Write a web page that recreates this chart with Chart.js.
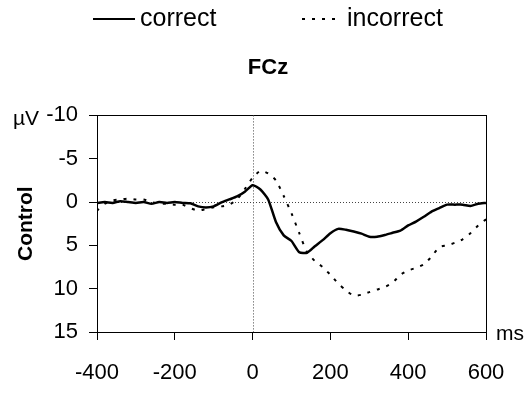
<!DOCTYPE html>
<html>
<head>
<meta charset="utf-8">
<script src="https://cdn.jsdelivr.net/npm/chart.js@4"></script>
<style>
html, body { margin: 0; padding: 0; background: #fff; }
</style>
</head>
<body>
<canvas id="erpCanvas" width="529" height="394"></canvas>
<script>
// time points (ms) and ERP amplitudes (µV), FCz, Control group
var timesMs = [-400, -380, -360, -340, -320, -300, -280, -260, -240, -220,
               -200, -180, -160, -140, -120, -100, -80, -60, -40, -20,
               0, 20, 40, 60, 80, 100, 120, 140, 160, 180,
               200, 220, 240, 260, 280, 300, 320, 340, 360, 380,
               400, 420, 440, 460, 480, 500, 520, 540, 560, 580, 600];
var correctUv = [0.1, 0.0, 0.1, -0.1, 0.0, 0.1, 0.0, 0.2, 0.0, 0.1,
                 0.0, 0.1, 0.15, 0.5, 0.62, 0.5, 0.05, -0.3, -0.65, -1.2,
                 -1.95, -1.45, -0.3, 2.3, 3.85, 4.5, 5.8, 5.85, 5.1, 4.4,
                 3.6, 3.1, 3.2, 3.4, 3.65, 4.0, 4.0, 3.8, 3.55, 3.3,
                 2.7, 2.25, 1.7, 1.1, 0.7, 0.3, 0.3, 0.3, 0.45, 0.2, 0.1];
var incorrectUv = [1.0, 0.2, -0.2, -0.3, -0.4, -0.3, -0.3, 0.0, 0.2, 0.2,
                   0.3, 0.3, 0.7, 1.0, 0.8, 0.6, 0.5, 0.3, -0.3, -1.5,
                   -2.8, -3.6, -3.3, -2.5, -0.7, 1.3, 3.6, 5.8, 6.8, 7.5,
                   8.4, 9.4, 10.2, 10.8, 10.7, 10.4, 10.1, 9.8, 9.3, 8.4,
                   7.9, 7.6, 7.2, 6.3, 5.2, 5.0, 4.7, 4.3, 3.6, 2.7, 2.0];
var seriesNames = ['correct', 'incorrect'];

function toPoints(values) {
    var pts = [];
    for (var i = 0; i < timesMs.length; i++) {
        pts.push({x: timesMs[i], y: values[i]});
    }
    return pts;
}

Chart.defaults.font.family = "'Liberation Sans', Arial, sans-serif";
Chart.defaults.color = '#000';

// zero lines, legend and unit labels
var overlay = {
    id: 'overlay',
    beforeDatasetsDraw: function(chart) {
        var ctx = chart.ctx, a = chart.chartArea;
        var x0 = Math.round(chart.scales.x.getPixelForValue(0)) + 0.5;
        var y0 = Math.round(chart.scales.y.getPixelForValue(0)) + 0.5;
        ctx.save();
        ctx.strokeStyle = '#444';
        ctx.lineWidth = 1;
        ctx.setLineDash([1, 2]);
        ctx.beginPath();
        ctx.moveTo(x0, a.top);
        ctx.lineTo(x0, a.bottom);
        ctx.moveTo(a.left, y0);
        ctx.lineTo(a.right, y0);
        ctx.stroke();
        ctx.restore();
    },
    afterDraw: function(chart) {
        var ctx = chart.ctx;
        var slots = [{x: 93, w: 42, tx: 140}, {x: 302, w: 38, tx: 347}];
        ctx.save();
        chart.data.datasets.forEach(function(ds, i) {
            var s = slots[i];
            ctx.strokeStyle = ds.borderColor;
            ctx.lineWidth = ds.borderWidth > 2 ? 2 : ds.borderWidth;
            ctx.setLineDash(ds.borderDash || []);
            ctx.beginPath();
            ctx.moveTo(s.x, 19);
            ctx.lineTo(s.x + s.w, 19);
            ctx.stroke();
            ctx.setLineDash([]);
            ctx.fillStyle = '#000';
            ctx.font = "25px 'Liberation Sans', Arial, sans-serif";
            ctx.textAlign = 'left';
            ctx.textBaseline = 'middle';
            ctx.fillText(ds.label, s.tx, 19);
        });
        ctx.font = "21px 'Liberation Sans', Arial, sans-serif";
        ctx.textBaseline = 'middle';
        ctx.fillText('\u00b5V', 13, 119);
        ctx.fillText('ms', 496, chart.chartArea.bottom + 2);
        ctx.restore();
    }
};

var ctx = document.getElementById('erpCanvas').getContext('2d');
var chart = new Chart(ctx, {
    type: 'line',
    data: {
        datasets: [{
            label: seriesNames[0],
            data: toPoints(correctUv),
            borderColor: '#000',
            borderWidth: 2.5,
            pointRadius: 0,
            tension: 0.2,
            xAxisID: 'x',
            yAxisID: 'y'
        }, {
            label: seriesNames[1],
            data: toPoints(incorrectUv),
            borderColor: '#000',
            borderWidth: 2,
            borderDash: [3, 7],
            pointRadius: 0,
            tension: 0.2,
            xAxisID: 'x',
            yAxisID: 'y'
        }]
    },
    options: {
        responsive: false,
        animation: false,
        layout: { padding: { left: 7, right: 0, top: 0, bottom: 7 } },
        plugins: {
            legend: { display: false },
            tooltip: { enabled: false },
            title: {
                display: true,
                text: 'FCz',
                color: '#000',
                font: { size: 22, weight: 'bold' },
                padding: { top: 55, bottom: 34 }
            }
        },
        scales: {
            x: {
                type: 'linear',
                position: 'bottom',
                min: -400,
                max: 600,
                ticks: { stepSize: 200, padding: 20, maxRotation: 0, font: { size: 22 }, color: '#000' },
                grid: { drawOnChartArea: false, tickLength: 8, tickColor: '#000' },
                border: { color: '#000', width: 1 },
                afterFit: function(s) { s.height = 55; }
            },
            xTop: {
                type: 'linear',
                position: 'top',
                min: -400,
                max: 600,
                ticks: { display: false },
                grid: { drawOnChartArea: false, drawTicks: false },
                border: { color: '#000', width: 1 },
                afterFit: function(s) { s.height = 0; }
            },
            y: {
                type: 'linear',
                position: 'left',
                reverse: true,
                min: -10,
                max: 15,
                ticks: { stepSize: 5, padding: 11, font: { size: 22 }, color: '#000' },
                grid: { drawOnChartArea: false, tickLength: 8, tickColor: '#000' },
                border: { color: '#000', width: 1 },
                title: {
                    display: true,
                    text: 'Control',
                    color: '#000',
                    font: { size: 21, weight: 'bold' },
                    padding: { top: 7, bottom: 0 }
                },
                afterFit: function(s) { s.width = 90; }
            },
            yRight: {
                type: 'linear',
                position: 'right',
                reverse: true,
                min: -10,
                max: 15,
                ticks: { display: false },
                grid: { drawOnChartArea: false, drawTicks: false },
                border: { color: '#000', width: 1 },
                afterFit: function(s) { s.width = 43; }
            }
        }
    },
    plugins: [overlay]
});
</script>
</body>
</html>
